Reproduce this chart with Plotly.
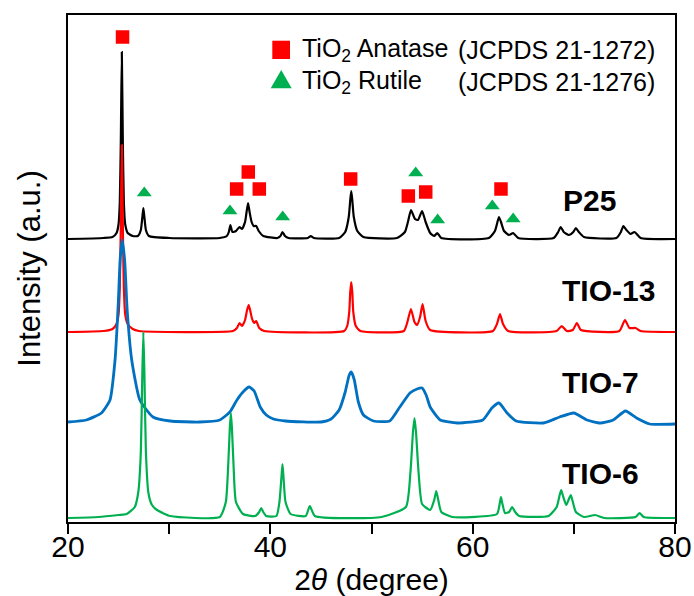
import plotly.graph_objects as go

# ---- digitized XRD patterns (2theta in degrees, intensity in a.u. incl. vertical offset) ----
p25_x = [20, 23.5, 24.4, 24.8, 25.0, 25.12, 25.22, 25.32, 25.42, 25.52, 25.65, 25.9, 26.4, 26.9,
         27.2, 27.35, 27.45, 27.55, 27.7, 28.0, 30, 35.0, 35.7, 35.9, 36.05, 36.25, 36.6, 36.95, 37.2,
         37.5, 37.65, 37.8, 37.95, 38.15, 38.35, 38.6, 38.85, 39.3, 40.7, 41.0, 41.2, 41.45, 41.8, 43.7,
         44.0, 44.3, 46.8, 47.4, 47.75, 47.9, 48.0, 48.1, 48.25, 48.6, 49.2, 52.5, 53.3, 53.6, 53.9,
         54.3, 54.6, 55.0, 55.35, 55.8, 56.2, 56.5, 56.9, 61.6, 62.2, 62.45, 62.6, 62.8, 63.1, 63.6,
         64.0, 64.5, 68.0, 68.45, 68.7, 69.0, 69.5, 69.95, 70.2, 70.5, 71.0, 74.2, 74.65, 74.9, 75.2,
         75.6, 76.0, 76.6, 80]
p25_y = [283, 284, 285, 289, 298, 320, 380, 470, 380, 320, 298, 289, 286, 286,
         292, 305, 314, 305, 292, 286, 284, 284, 286, 290, 297, 290, 291, 295, 293,
         300, 310, 319, 310, 300, 296, 296, 291, 286, 284, 286, 290, 286, 284, 284,
         286, 284, 284, 290, 305, 322, 331, 322, 305, 291, 285, 284, 290, 300, 312,
         303, 302, 311, 300, 289, 286, 289, 284, 284, 291, 300, 305, 300, 291, 287,
         289, 284, 284, 290, 295, 290, 287, 290, 294, 290, 285, 284, 290, 296, 292,
         288, 290, 284, 283]

tio13_x = [20, 23.5, 24.4, 24.8, 25.0, 25.12, 25.2, 25.32, 25.44, 25.52, 25.65, 25.9, 26.4, 27.0,
           36.3, 36.7, 36.95, 37.2, 37.5, 37.7, 37.86, 38.0, 38.2, 38.4, 38.6, 38.9, 39.4, 47.3,
           47.6, 47.8, 47.9, 48.0, 48.1, 48.2, 48.45, 48.9, 53.2, 53.55, 53.9, 54.25, 54.5, 54.8,
           55.05, 55.35, 55.8, 62.0, 62.4, 62.7, 63.0, 63.5, 68.3, 68.8, 69.3, 69.9, 70.3, 70.7,
           74.5, 75.05, 75.5, 76.1, 76.6, 80]
tio13_y = [190, 191, 193, 198, 208, 235, 282, 377, 282, 235, 208, 198, 193, 191,
           191, 194, 199, 196, 202, 212, 217, 212, 203, 199, 201, 194, 191, 191,
           196, 210, 230, 240, 230, 210, 196, 191, 191, 200, 213, 200, 197, 205,
           218, 201, 192, 191, 198, 208, 198, 191, 191, 196, 191, 192, 199, 192,
           191, 202, 194, 194, 191, 190]

tio7_x = [20, 21.8, 23.3, 24.15, 24.65, 24.97, 25.15, 25.35, 25.6, 25.85, 26.3, 27.1, 28.4, 30.1,
          33, 35, 36.0, 36.7, 37.3, 37.9, 38.4, 39.0, 39.6, 40.3, 41.5, 45, 46.0, 46.8, 47.4,
          47.8, 48.0, 48.3, 48.7, 49.2, 50.2, 51.8, 52.8, 53.8, 54.5, 55.0, 55.4, 55.8, 56.8,
          58.5, 61.0, 61.9, 62.6, 63.4, 64.3, 67.0, 68.6, 70.0, 71.3, 72.6, 73.9, 75.1, 76.2,
          77.5, 80]
tio7_y = [100, 102, 109, 122, 162, 219, 262, 282, 262, 212, 162, 122, 105, 101,
          100, 102, 110, 122, 130, 135, 131, 115, 107, 103, 101, 100, 103, 112, 130,
          147, 150, 142, 120, 107, 101, 101, 115, 129, 133, 134, 127, 115, 102,
          99, 102, 114, 119, 109, 101, 99, 105, 109, 102, 99, 102, 111, 104,
          98, 98]

tio6_x = [20, 23, 25, 25.8, 26.6, 26.95, 27.2, 27.35, 27.45, 27.55, 27.7, 27.95, 28.3, 28.8, 30.1,
          35.0, 35.6, 35.85, 36.0, 36.1, 36.2, 36.35, 36.6, 37.3, 38.5, 38.9, 39.1, 39.3, 39.6,
          40.6, 40.9, 41.1, 41.2, 41.3, 41.5, 42.0, 43.5, 43.9, 44.4, 51.0, 53.4, 53.85, 54.1,
          54.25, 54.4, 54.65, 55.0, 55.8, 56.2, 56.4, 56.6, 56.9, 58.0, 62.4, 62.7, 62.8, 62.9,
          63.2, 63.6, 63.9, 64.2, 64.6, 67.5, 68.3, 68.6, 68.75, 68.9, 69.25, 69.55, 69.7, 69.85,
          70.2, 71.0, 72.1, 73.0, 76.1, 76.5, 76.9, 80]
tio6_y = [4, 5, 7, 8, 15, 30, 70, 150, 190, 150, 70, 29, 17, 12, 6,
          5, 20, 60, 95, 109, 95, 60, 20, 8, 6, 10, 14, 10, 6,
          6, 20, 45, 58, 45, 20, 8, 6, 16, 6, 5, 15, 50, 90,
          104, 90, 50, 18, 12, 22, 31, 22, 10, 5, 8, 20, 25, 20,
          9, 10, 15, 10, 6, 6, 15, 27, 32, 27, 17, 24, 27, 22,
          10, 5, 7, 4, 5, 9, 5, 4]

series_names = ["P25", "TIO-13", "TIO-7", "TIO-6"]
series_colors = ["#000000", "#FF0000", "#0070C0", "#00B050"]
series_widths = [2.2, 2.2, 2.8, 2.2]

# ---- phase reference markers ----
anatase_x = [25.39, 36.67, 37.82, 38.91, 47.94, 53.64, 55.36, 62.8]
anatase_y = [485, 333, 350, 333, 343, 326, 330, 333]
rutile_x = [27.54, 36.01, 41.22, 54.37, 56.54, 61.94, 64.0]
rutile_y = [329, 311, 305, 349, 302, 316, 303]

# sample label positions (2theta, intensity)
label_x = [68.7, 68.65, 68.65, 68.65]
label_y = [322, 232, 140, 49]

legend_phase = ["TiO<sub>2</sub> Anatase", "TiO<sub>2</sub> Rutile"]
legend_card = ["(JCPDS 21-1272)", "(JCPDS 21-1276)"]

FONT = "Liberation Sans, Arial, Helvetica, sans-serif"

W, H = 694, 596
ML, MR, MT, MB = 68, 19, 15, 74
PW, PH = W - ML - MR, H - MT - MB


def px(xp):
    return (xp - ML) / PW


def py(yp):
    return (H - MB - yp) / PH


fig = go.Figure()
data_sets = [(p25_x, p25_y), (tio13_x, tio13_y), (tio7_x, tio7_y), (tio6_x, tio6_y)]
for (xs, ys), name, col, w in zip(data_sets, series_names, series_colors, series_widths):
    fig.add_trace(go.Scatter(x=xs, y=ys, mode="lines", name=name,
                             line=dict(color=col, width=w, shape="spline", smoothing=0.5),
                             showlegend=False))

fig.add_trace(go.Scatter(
    x=anatase_x, y=anatase_y, mode="markers", name="TiO2 Anatase", showlegend=False,
    marker=dict(symbol="square", size=13.5, color="#FF0000")))
fig.add_trace(go.Scatter(
    x=rutile_x, y=rutile_y, mode="markers", name="TiO2 Rutile", showlegend=False,
    marker=dict(symbol="triangle-up", size=13, color="#00B050")))

for name, lx, ly in zip(series_names, label_x, label_y):
    fig.add_annotation(x=lx, y=ly, xref="x", yref="y", text="<b>" + name + "</b>",
                       showarrow=False, xanchor="left", yanchor="middle",
                       font=dict(family=FONT, size=30, color="black"))

# ---- manual legend (key symbols + text) ----
fig.add_shape(type="rect", xref="paper", yref="paper",
              x0=px(272.3), x1=px(290.0), y0=py(59.0), y1=py(40.7),
              fillcolor="#FF0000", line=dict(width=0))
fig.add_shape(type="path", xref="paper", yref="paper",
              path="M {:.5f},{:.5f} L {:.5f},{:.5f} L {:.5f},{:.5f} Z".format(
                  px(270.7), py(88.3), px(291.7), py(88.3), px(281.2), py(70.0)),
              fillcolor="#00B050", line=dict(width=0))
for i, (ph, card) in enumerate(zip(legend_phase, legend_card)):
    yc = 50 + i * 31.5
    fig.add_annotation(x=px(300), y=py(yc), xref="paper", yref="paper", text=ph,
                       showarrow=False, xanchor="left", yanchor="middle",
                       font=dict(family=FONT, size=25, color="black"))
    fig.add_annotation(x=px(456), y=py(yc), xref="paper", yref="paper", text=card,
                       showarrow=False, xanchor="left", yanchor="middle",
                       font=dict(family=FONT, size=25, color="black"))

fig.update_layout(
    width=W, height=H,
    margin=dict(l=ML, r=MR, t=MT, b=MB),
    plot_bgcolor="white", paper_bgcolor="white",
    font=dict(family=FONT, color="black"),
    showlegend=False,
    xaxis=dict(range=[20, 80], tick0=20, dtick=20,
               ticks="outside", ticklen=10, tickwidth=2, tickcolor="black",
               minor=dict(dtick=10, ticks="outside", ticklen=10, tickwidth=2, tickcolor="black",
                          showgrid=False),
               showline=True, linewidth=2, linecolor="black", mirror=True,
               showgrid=False, zeroline=False, automargin=False,
               ticklabelstandoff=-13,
               tickfont=dict(family=FONT, size=30),
               title=dict(text="2<i>θ</i> (degree)", font=dict(family=FONT, size=30), standoff=17)),
    yaxis=dict(range=[0, 507], showticklabels=False, ticks="",
               showline=True, linewidth=2, linecolor="black", mirror=True,
               showgrid=False, zeroline=False, automargin=False,
               title=dict(text="Intensity (a.u.)", font=dict(family=FONT, size=31), standoff=16)),
)

fig.write_html("out.html",
               config={"displayModeBar": False},
               post_script="document.body.style.margin='0px';document.body.style.padding='0px';")
